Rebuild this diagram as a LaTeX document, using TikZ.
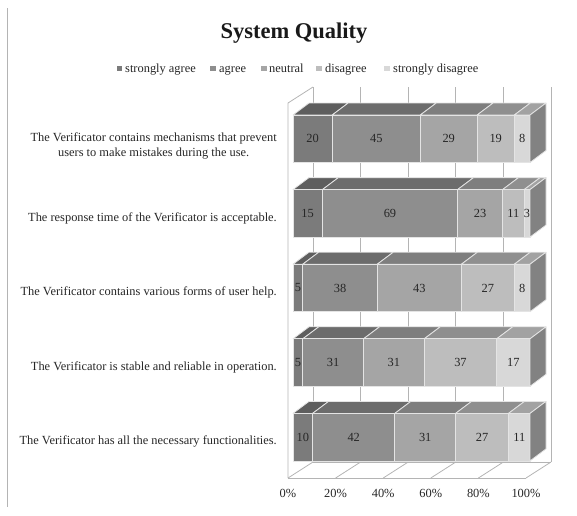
\documentclass[tikz,border=0pt]{standalone}
\usepackage{fontspec}
\setmainfont{Liberation Serif}
\definecolor{f1}{HTML}{7B7B7B}
\definecolor{f2}{HTML}{8E8E8E}
\definecolor{f3}{HTML}{A5A5A5}
\definecolor{f4}{HTML}{BDBDBD}
\definecolor{f5}{HTML}{D8D8D8}
\definecolor{t1}{HTML}{5E5E5E}
\definecolor{t2}{HTML}{6C6C6C}
\definecolor{t3}{HTML}{7E7E7E}
\definecolor{t4}{HTML}{8F8F8F}
\definecolor{t5}{HTML}{A2A2A2}
\definecolor{sidec}{HTML}{828282}
\definecolor{wallc}{HTML}{B4B4B4}
\definecolor{edgec}{HTML}{E4E4E4}
\tikzset{
  wall/.style={draw=wallc, line width=0.8pt},
  segedge/.style={draw=edgec, line width=0.8pt, line join=round},
  txt/.style={font=\fontsize{12.4}{15}\selectfont, text=black!85},
  cat/.style={txt, anchor=east, align=center, inner sep=0pt},
  num/.style={txt, inner sep=0pt},
  legtxt/.style={txt, anchor=base west, inner sep=0pt},
  legmark/.style={minimum size=5.5pt, inner sep=0pt, draw=none},
}
\begin{document}
\begin{tikzpicture}[x=1pt,y=-1pt]
\useasboundingbox (0,0) rectangle (577,515);
% left frame line
\draw[wall] (7,8) -- (7,507);
% title
\node[font=\fontsize{22.5}{26}\selectfont\bfseries, text=black!90] (title) at (294,33) {System Quality};
% legend
\node[legmark, fill=f1] (m1) at (119.5,68.5) {};
\node[legtxt] (l1) at (125,72) {strongly agree};
\node[legmark, fill=f2] (m2) at (213,68.5) {};
\node[legtxt] (l2) at (219,72) {agree};
\node[legmark, fill=f3] (m3) at (264,68.5) {};
\node[legtxt] (l3) at (269,72) {neutral};
\node[legmark, fill=f4] (m4) at (319,68.5) {};
\node[legtxt] (l4) at (325,72) {disagree};
\node[legmark, fill=f5] (m5) at (387,68.5) {};
\node[legtxt] (l5) at (393,72) {strongly disagree};
% walls
\draw[wall] (288,478) -- (288,103) -- (313,87);
\foreach \k in {0,...,5}{
  \draw[wall] (313+47.6*\k,87) -- (313+47.6*\k,462);
  \draw[wall] (288+47.6*\k,478) -- (313+47.6*\k,462);
}
\draw[wall] (288,478) -- (526,478);
\draw[wall] (313,462) -- (551,462);
% bars
\foreach \row/\va/\vb/\vc/\vd/\ve in {0/20/45/29/19/8,1/15/69/23/11/3,2/5/38/43/27/8,3/5/31/31/37/17,4/10/42/31/27/11}{
  \pgfmathsetmacro\yt{115+74.6*\row}
  \pgfmathsetmacro\yb{\yt+47.5}
  \pgfmathsetmacro\ym{(\yt+\yb)/2}
  \gdef\cum{0}
  \foreach \v [count=\k] in {\va,\vb,\vc,\vd,\ve} {
    \pgfmathsetmacro\xa{293+\cum/121*237}
    \pgfmathsetmacro\xb{293+(\cum+\v)/121*237}
    \pgfmathtruncatemacro\newcum{\cum+\v}
    \xdef\cum{\newcum}
    \filldraw[segedge, fill=t\k] (\xa,\yt) -- (\xa+16,\yt-12) -- (\xb+16,\yt-12) -- (\xb,\yt) -- cycle;
    \filldraw[segedge, fill=f\k] (\xa,\yt) rectangle (\xb,\yb);
    \node[num] (n\row-\k) at ({(\xa+\xb)/2},\ym) {\v};
  }
  \filldraw[segedge, fill=sidec] (530,\yt) -- (546,\yt-12) -- (546,\yb-12) -- (530,\yb) -- cycle;
}
% category labels
\node[cat] (c1) at (277,145.5) {The Verificator contains mechanisms that prevent\\users to make mistakes during the use.};
\node[cat] (c2) at (277,218) {The response time of the Verificator is acceptable.};
\node[cat] (c3) at (277,292) {The Verificator contains various forms of user help.};
\node[cat] (c4) at (277,367) {The Verificator is stable and reliable in operation.};
\node[cat] (c5) at (277,441) {The Verificator has all the necessary functionalities.};
% axis labels
\foreach \p [count=\k from 0] in {0,20,40,60,80,100}{
  \node[num] (ax\k) at (288+47.6*\k,493) {\p\%};
}
\end{tikzpicture}
\end{document}
